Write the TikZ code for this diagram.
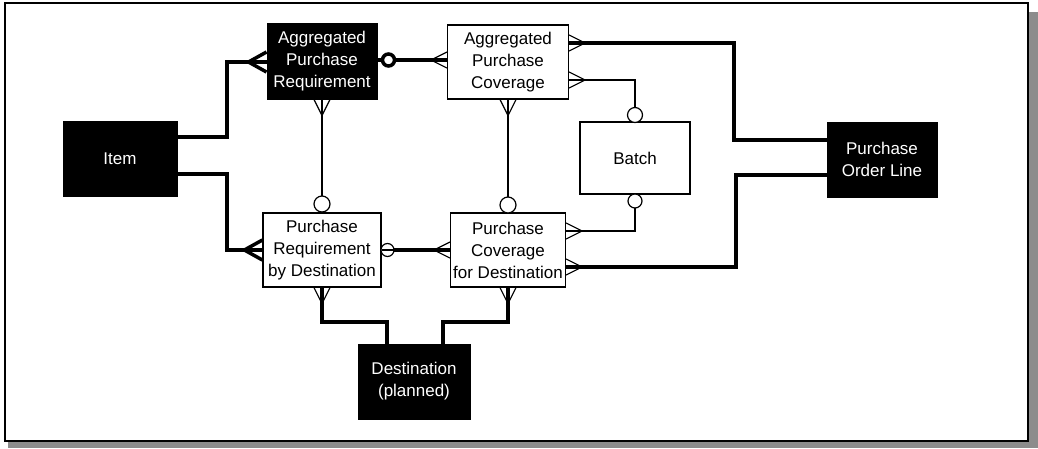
\documentclass[tikz,border=0pt]{standalone}
\usepackage{fontspec}
\setmainfont{Liberation Sans}
\begin{document}
\begin{tikzpicture}[x=1pt,y=-1pt,
  every node/.style={font=\fontsize{17}{22}\selectfont, align=center, inner sep=0pt},
  darkbox/.style={draw=black, fill=black, text=white, line width=1pt},
  lightbox/.style={draw=black, fill=white, text=black, line width=1.2pt},
  reqline/.style={line width=4.2pt},
  optline/.style={line width=1.2pt},
  crowthin/.pic={\draw[line width=1.2pt] (16,0) -- (0,-8) (16,0) -- (0,8);},
  crowbold/.pic={\draw[line width=3.5pt] (18,0) -- (0,-10) (18,0) -- (0,10) (18,0) -- (0,0);},
  optring/.style={draw=black, fill=white, line width=1.2pt},
]
% canvas, frame and drop shadow
\fill[white] (0,0) rectangle (1038,448);
\useasboundingbox (0,0) rectangle (1038,448);
\fill[black!45] (1028,12) rectangle (1038,448);
\fill[black!45] (8,441) rectangle (1038,448);
\draw[line width=1.3pt, fill=white] (5,3) rectangle (1028,441);

% entities
\node[darkbox, minimum width=114pt, minimum height=75pt] (item) at (120,158.5) {Item};
\node[darkbox, minimum width=110pt, minimum height=76pt] (apr) at (322,61) {Aggregated\\Purchase\\Requirement};
\node[lightbox, minimum width=121pt, minimum height=74pt] (apc) at (508,62) {Aggregated\\Purchase\\Coverage};
\node[lightbox, minimum width=110pt, minimum height=72pt] (batch) at (635,158) {Batch};
\node[darkbox, minimum width=110pt, minimum height=75pt] (pol) at (882,159.5) {Purchase\\Order Line};
\node[lightbox, minimum width=118pt, minimum height=74pt] (prd) at (322,250) {Purchase\\Requirement\\by Destination};
\node[lightbox, minimum width=115pt, minimum height=74pt] (pcd) at (508,250) {Purchase\\Coverage\\for Destination};
\node[darkbox, minimum width=112pt, minimum height=75pt] (dest) at (414,381.5) {Destination\\(planned)};

% Item -- Aggregated Purchase Requirement
\draw[reqline] (item.east |- 0,137) -| (227,62) -- (apr.west |- 0,62);
\pic[rotate=180] at (apr.west |- 0,62) {crowbold};

% Item -- Purchase Requirement by Destination
\draw[reqline] (item.east |- 0,174) -| (227,250) -- (prd.west |- 0,250);
\pic[rotate=180] at (prd.west |- 0,250) {crowbold};

% Aggregated Purchase Requirement -- Aggregated Purchase Coverage
\draw[reqline] (apr.east |- 0,60) -- (apc.west |- 0,60);
\draw[line width=3.5pt, fill=white] (388.5,60) circle (6);
\pic[rotate=180] at (apc.west |- 0,60) {crowthin};

% Aggregated Purchase Coverage -- Purchase Order Line
\draw[reqline] (apc.east |- 0,43) -| (734,140) -- (pol.west |- 0,140);
\pic at (apc.east |- 0,43) {crowthin};

% Aggregated Purchase Coverage -- Batch
\draw[optline] (apc.east |- 0,80) -| (batch.north);
\pic at (apc.east |- 0,80) {crowthin};
\draw[optring] (635,115) circle (7.5);

% Batch -- Purchase Coverage for Destination
\draw[optline] (batch.south) |- (pcd.east |- 0,231);
\pic at (pcd.east |- 0,231) {crowthin};
\draw[optring] (635,201) circle (7);

% Purchase Coverage for Destination -- Purchase Order Line
\draw[reqline] (pcd.east |- 0,267) -| (736,175) -- (pol.west |- 0,175);
\pic at (pcd.east |- 0,267) {crowthin};

% Aggregated Purchase Requirement -- Purchase Requirement by Destination
\draw[optline] (apr.south) -- (prd.north);
\pic[rotate=-90] at (apr.south) {crowthin};
\draw[optring] (322,204) circle (8);

% Aggregated Purchase Coverage -- Purchase Coverage for Destination
\draw[optline] (apc.south) -- (pcd.north);
\pic[rotate=-90] at (apc.south) {crowthin};
\draw[optring] (508,205) circle (8);

% Purchase Requirement by Destination -- Purchase Coverage for Destination
\draw[reqline] (prd.east |- 0,250) -- (pcd.west |- 0,250);
\draw[optring] (387.5,250) circle (6.5);
\draw[optline] (prd.east |- 0,250) -- (394,250);
\pic[rotate=180] at (pcd.west |- 0,250) {crowthin};

% Purchase Requirement by Destination -- Destination
\draw[reqline] (prd.south) |- (387,322) -- (dest.north -| 387,0);
\pic[rotate=-90] at (prd.south) {crowthin};

% Purchase Coverage for Destination -- Destination
\draw[reqline] (pcd.south) |- (443,322) -- (dest.north -| 443,0);
\pic[rotate=-90] at (pcd.south) {crowthin};
\end{tikzpicture}
\end{document}
